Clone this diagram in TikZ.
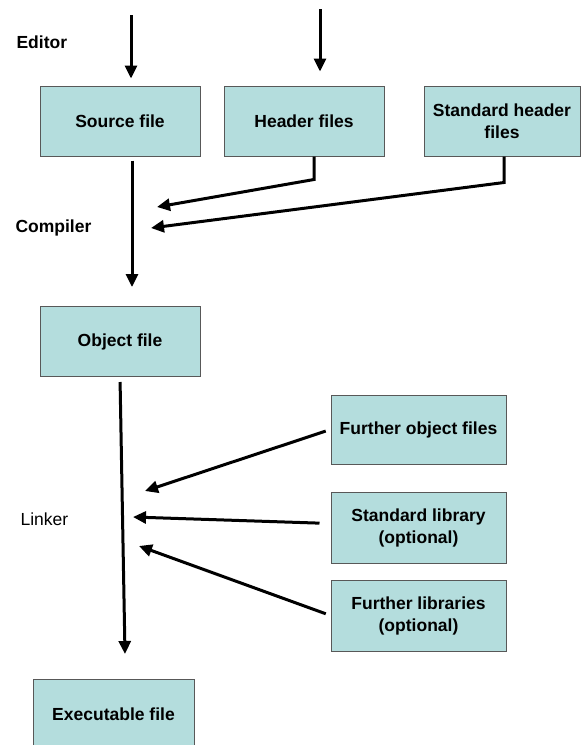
\documentclass[tikz,border=0pt]{standalone}
\usepackage{fontspec}
\setmainfont{Liberation Sans}
\usepackage{tikz}
\usetikzlibrary{arrows.meta,calc}
\definecolor{BoxTeal}{HTML}{B4DDDD}
\definecolor{BoxEdge}{HTML}{585858}

\begin{document}
\begin{tikzpicture}[
    x=1pt,y=-1pt,
    fbox/.style={rectangle,draw=BoxEdge,line width=1pt,fill=BoxTeal,
      minimum width=160pt,minimum height=70pt,inner sep=2pt,align=center,
      font=\fontsize{17.5}{22}\selectfont\bfseries},
    stage/.style={anchor=west,font=\fontsize{17.5}{22}\selectfont\bfseries},
    arr/.style={line width=3pt,-{Triangle[length=13pt,width=12pt]}},
    >=Triangle
  ]
  \useasboundingbox (0,0) rectangle (581,745);

  % Editor stage
  \node[stage] (editor) at (13,42) {Editor};
  \node[fbox] (src) at (120,121) {Source file};
  \node[fbox] (hdr) at (304,121) {Header files};
  \node[fbox,minimum width=156pt] (stdh) at (502,121) {Standard header\\files};
  \coordinate (ed1) at (131,15);
  \coordinate (ed2) at (320,9);
  \draw[arr,shorten >=7pt] (ed1) -- (ed1 |- src.north);
  \draw[arr,shorten >=14pt] (ed2) -- (ed2 |- hdr.north);

  % Compiler stage
  \node[stage] (compiler) at (12,228) {Compiler};
  \node[fbox] (obj) at (120,341.5) {Object file};
  \coordinate (cp1) at (157,207);
  \coordinate (cp2) at (151,228);
  \draw[arr,shorten <=4pt,shorten >=19pt] ([xshift=12pt]src.south) -- ([xshift=12pt]src.south |- obj.north);
  \draw[arr,line join=miter] ([xshift=10pt]hdr.south) -- ++(0,23) -- (cp1);
  \draw[arr,line join=miter] ([xshift=2pt]stdh.south) -- ++(0,26) -- (cp2);

  % Linker stage
  \node[stage,font=\fontsize{17.5}{22}\selectfont] (linker) at (17,519) {Linker};
  \node[fbox,minimum width=175pt,minimum height=69pt] (fobj) at (418.5,429.5) {Further object files};
  \node[fbox,minimum width=175pt,minimum height=71pt] (slib) at (418.5,527.5) {Standard library\\(optional)};
  \node[fbox,minimum width=175pt,minimum height=71pt] (flib) at (418.5,615.5) {Further libraries\\(optional)};
  \node[fbox,minimum width=161pt] (exe) at (113.5,714) {Executable file};
  \coordinate (lk0) at (125,654);
  \coordinate (lk1) at (145,491);
  \coordinate (lk2) at (133,517);
  \coordinate (lk3) at (139,546);
  \draw[arr,shorten <=5pt] (obj.south) -- (lk0);
  \draw[arr,shorten <=5pt] (fobj.west) -- (lk1);
  \draw[arr,shorten <=11pt] ([yshift=4pt]slib.west) -- (lk2);
  \draw[arr,shorten <=5pt] (flib.west) -- (lk3);
\end{tikzpicture}
\end{document}
